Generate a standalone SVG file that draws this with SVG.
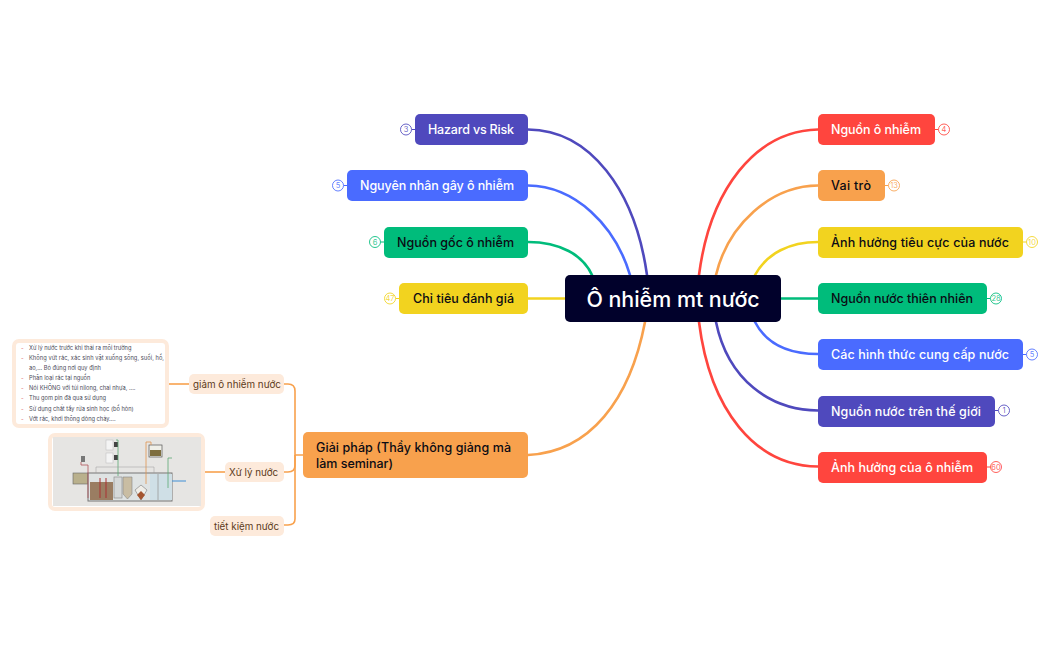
<svg xmlns="http://www.w3.org/2000/svg" width="1050" height="650" viewBox="0 0 1050 650">
<style>
text{font-family:Inter,"Noto Sans","DejaVu Sans",sans-serif}
.t{font-size:12.5px;font-weight:500;dominant-baseline:central}
.w{fill:#fff}.k{fill:#0b0b14}
.c{fill:none;stroke-width:2.6;stroke-linecap:round}
.s{fill:none;stroke:#f8a14d;stroke-width:1.6}
.b{fill:#fff;stroke-width:1;stroke-opacity:.85}
.n{font-size:7.5px;text-anchor:middle;dominant-baseline:central;fill-opacity:.85}
.ch{fill:#fdeadb}
.ct{font-size:9.8px;fill:#5c3a1a;dominant-baseline:central}
.l{font-size:5.7px;fill:#4a4a58}
.d{font-size:5.7px;fill:#e05a5a}
</style>
<rect width="1050" height="650" fill="#fff"/>
<g id="connectors">
<path class="c" stroke="#4f49bd" d="M528 129.500C590 130 635 190 647 275"/>
<path class="c" stroke="#4a6bff" d="M528 185.500C575 186 615 225 630 275"/>
<path class="c" stroke="#00bc7b" d="M528 242C560 242 583 255 592 275"/>
<path class="c" stroke="#f2d31f" d="M528 298.500H565"/>
<path class="c" stroke="#f8a14d" d="M528 455C590 452 630 400 645 322"/>
<path class="c" stroke="#ff453e" d="M818 129.500C755 131 710 190 699 275"/>
<path class="c" stroke="#f8a14d" d="M818 185.500C770 186 728 225 716 275"/>
<path class="c" stroke="#f2d31f" d="M818 242C790 242 767 253 755 275"/>
<path class="c" stroke="#00bc7b" d="M781 298.500H818"/>
<path class="c" stroke="#4a6bff" d="M818 354C790 354 767 345 755 322"/>
<path class="c" stroke="#4f49bd" d="M818 410.500C770 410 728 380 716 322"/>
<path class="c" stroke="#ff453e" d="M818 466.500C755 466 710 410 699 322"/>
<path class="s" d="M303 455H295V391Q295 384 288 384H284"/>
<path class="s" d="M295 455V465Q295 472 288 472H284"/>
<path class="s" d="M295 455V519Q295 525 288 525H284"/>
<path class="s" d="M189 384H169"/>
<path class="s" d="M225 472H205"/>
<g stroke-width="1">
<path d="M411.500 129.500H415" stroke="#4f49bd"/><path d="M343.500 185.500H347" stroke="#4a6bff"/><path d="M380.500 242H384" stroke="#00bc7b"/><path d="M395.500 298.500H399" stroke="#f2d31f"/>
<path d="M935 129.500H938.500" stroke="#ff453e"/><path d="M885 185.500H888.500" stroke="#f8a14d"/><path d="M1023 242H1026.500" stroke="#f2d31f"/><path d="M987 298.500H990.500" stroke="#00bc7b"/><path d="M1023 354.500H1026.500" stroke="#4a6bff"/><path d="M995 410.500H998.500" stroke="#4f49bd"/><path d="M987 467H990.500" stroke="#ff453e"/>
</g>
</g>
<g id="root"><rect x="565" y="275" width="216" height="47" rx="5" fill="#01012b"/><text x="673" y="298.500" font-size="21.400" font-weight="500" fill="#fff" text-anchor="middle" dominant-baseline="central">Ô nhiễm mt nước</text></g>
<g id="n-hazard"><rect x="415" y="114" width="113" height="31" rx="5" fill="#4f49bd"/><text class="t w" x="428" y="129.500" textLength="86">Hazard vs Risk</text><circle class="b" cx="406" cy="129.500" r="5.500" stroke="#4f49bd"/><text class="n" x="406" y="129.500" fill="#4f49bd">3</text></g>
<g id="n-nguyennhan"><rect x="347" y="170" width="181" height="31" rx="5" fill="#4a6bff"/><text class="t w" x="360" y="185.500" textLength="154">Nguyên nhân gây ô nhiễm</text><circle class="b" cx="338" cy="185.500" r="5.500" stroke="#4a6bff"/><text class="n" x="338" y="185.500" fill="#4a6bff">5</text></g>
<g id="n-nguongoc"><rect x="384" y="227" width="144" height="31" rx="5" fill="#00bc7b"/><text class="t k" x="397" y="242" textLength="117">Nguồn gốc ô nhiễm</text><circle class="b" cx="375" cy="242" r="5.500" stroke="#00bc7b"/><text class="n" x="375" y="242" fill="#00bc7b">6</text></g>
<g id="n-chitieu"><rect x="399" y="283" width="129" height="31" rx="5" fill="#f2d31f"/><text class="t k" x="413" y="298.500" textLength="101">Chỉ tiêu đánh giá</text><circle class="b" cx="390" cy="298.500" r="5.500" stroke="#f2d31f"/><text class="n" x="390" y="298.500" fill="#f2d31f">47</text></g>
<g id="n-nguon"><rect x="818" y="114" width="117" height="31" rx="5" fill="#ff453e"/><text class="t w" x="831" y="129.500" textLength="90">Nguồn ô nhiễm</text><circle class="b" cx="944" cy="129.500" r="5.500" stroke="#ff453e"/><text class="n" x="944" y="129.500" fill="#ff453e">4</text></g>
<g id="n-vaitro"><rect x="818" y="170" width="67" height="31" rx="5" fill="#f8a14d"/><text class="t k" x="831" y="185.500" textLength="40">Vai trò</text><circle class="b" cx="894" cy="185.500" r="5.500" stroke="#f8a14d"/><text class="n" x="894" y="185.500" fill="#f8a14d">13</text></g>
<g id="n-anhhuongtc"><rect x="818" y="227" width="205" height="31" rx="5" fill="#f2d31f"/><text class="t k" x="831" y="242" textLength="178">Ảnh hưởng tiêu cực của nước</text><circle class="b" cx="1032" cy="242" r="5.500" stroke="#f2d31f"/><text class="n" x="1032" y="242" fill="#f2d31f">10</text></g>
<g id="n-thiennhien"><rect x="818" y="283" width="169" height="31" rx="5" fill="#00bc7b"/><text class="t k" x="831" y="298.500" textLength="142">Nguồn nước thiên nhiên</text><circle class="b" cx="996" cy="298.500" r="5.500" stroke="#00bc7b"/><text class="n" x="996" y="298.500" fill="#00bc7b">28</text></g>
<g id="n-hinhthuc"><rect x="818" y="339" width="205" height="31" rx="5" fill="#4a6bff"/><text class="t w" x="831" y="354.500" textLength="178">Các hình thức cung cấp nước</text><circle class="b" cx="1032" cy="354.500" r="5.500" stroke="#4a6bff"/><text class="n" x="1032" y="354.500" fill="#4a6bff">5</text></g>
<g id="n-thegioi"><rect x="818" y="396" width="177" height="31" rx="5" fill="#4f49bd"/><text class="t w" x="831" y="411" textLength="150">Nguồn nước trên thế giới</text><circle class="b" cx="1004" cy="410.500" r="5.500" stroke="#4f49bd"/><text class="n" x="1004" y="410.500" fill="#4f49bd">1</text></g>
<g id="n-anhhuong"><rect x="818" y="452" width="169" height="31" rx="5" fill="#ff453e"/><text class="t w" x="831" y="467" textLength="142">Ảnh hưởng của ô nhiễm</text><circle class="b" cx="996" cy="467" r="5.500" stroke="#ff453e"/><text class="n" x="996" y="467" fill="#ff453e">60</text></g>
<g id="n-giaiphap"><rect x="303" y="432" width="225" height="46" rx="5" fill="#f8a14d"/><text class="t k" x="316" y="447" textLength="195">Giải pháp (Thầy không giảng mà</text><text class="t k" x="316" y="463" textLength="77">làm seminar)</text></g>
<g id="n-giam"><rect class="ch" x="189" y="374" width="95" height="20" rx="5"/><text class="ct" x="193" y="384">giảm ô nhiễm nước</text></g>
<g id="n-xuly"><rect class="ch" x="225" y="462" width="59" height="20" rx="5"/><text class="ct" x="229" y="472">Xử lý nước</text></g>
<g id="n-tietkiem"><rect class="ch" x="210" y="516" width="74" height="20" rx="5"/><text class="ct" x="214" y="526">tiết kiệm nước</text></g>
<g id="note">
<rect x="14" y="341" width="153" height="85" rx="5" fill="#fff" stroke="#fdeadb" stroke-width="4"/>
<text class="d" x="21" y="350">-</text><text class="l" x="29" y="350">Xử lý nước trước khi thải ra môi trường</text>
<text class="d" x="21" y="360">-</text><text class="l" x="29" y="360" textLength="135">Không vứt rác, xác sinh vật xuống sông, suối, hồ,</text>
<text class="l" x="29" y="369.500">ao,… Bỏ đúng nơi quy định</text>
<text class="d" x="21" y="380">-</text><text class="l" x="29" y="380">Phân loại rác tại nguồn</text>
<text class="d" x="21" y="390">-</text><text class="l" x="29" y="390">Nói KHÔNG với túi nilong, chai nhựa, ….</text>
<text class="d" x="21" y="400">-</text><text class="l" x="29" y="400">Thu gom pin đã qua sử dụng</text>
<text class="d" x="21" y="411">-</text><text class="l" x="29" y="411">Sử dụng chất tẩy rửa sinh học (bồ hòn)</text>
<text class="d" x="21" y="421">-</text><text class="l" x="29" y="421">Vớt rác, khơi thông dòng chảy….</text>
</g>
<g id="plant">
<rect x="50" y="435" width="153" height="74" rx="5" fill="#fff" stroke="#fdeadb" stroke-width="4"/>
<rect x="53" y="437" width="148" height="69" fill="#e6e5e3"/>
<rect x="73" y="473" width="15" height="11" fill="#b9b08c" stroke="#666" stroke-width=".6"/>
<rect x="88" y="473" width="84" height="28" fill="#dfe3e3" stroke="#777" stroke-width="1"/>
<rect x="90" y="482" width="23" height="18" fill="#9a7d62"/>
<rect x="114" y="477" width="8" height="21" fill="#d6d9d9" stroke="#888" stroke-width=".6"/>
<path d="M123 477H132V494L127.500 499L123 494Z" fill="#c9bda3" stroke="#888" stroke-width=".6"/>
<path d="M135 490L141 485L147 490L141 500Z" fill="#f0eee8" stroke="#777" stroke-width=".6"/>
<path d="M137 495L141 491L145 495L141 500Z" fill="#a5552f"/>
<rect x="150" y="474" width="22" height="26" fill="#cfdfe6"/>
<path d="M158 474V500" stroke="#999" stroke-width=".8"/>
<rect x="106" y="440" width="7" height="10" fill="#f4f4f4" stroke="#bbb" stroke-width=".5"/>
<rect x="106" y="453" width="7" height="10" fill="#f4f4f4" stroke="#bbb" stroke-width=".5"/>
<rect x="114" y="442" width="4" height="5" fill="#444"/>
<rect x="114" y="455" width="4" height="5" fill="#444"/>
<rect x="149" y="445" width="13" height="12" fill="#efefe8" stroke="#555" stroke-width=".7"/>
<rect x="150" y="450" width="11" height="6" fill="#7d6d3e"/>
<path d="M116 440H118V476" fill="none" stroke="#5aa875" stroke-width=".8"/>
<path d="M146 484V442H151V445" fill="none" stroke="#e0964e" stroke-width=".8"/>
<path d="M168 488V458H172" fill="none" stroke="#5aa875" stroke-width=".8"/>
<path d="M172 481H186" fill="none" stroke="#3f8fd6" stroke-width="1"/>
<path d="M88 498V465H81V462" fill="none" stroke="#b0555a" stroke-width=".8"/>
<rect x="81" y="456" width="4" height="6" fill="#777"/>
<path d="M96 473V467H154V473" fill="none" stroke="#999" stroke-width=".5"/>
<path d="M100 498V478M106 498V478" stroke="#a33" stroke-width="1"/>
</g>
</svg>
